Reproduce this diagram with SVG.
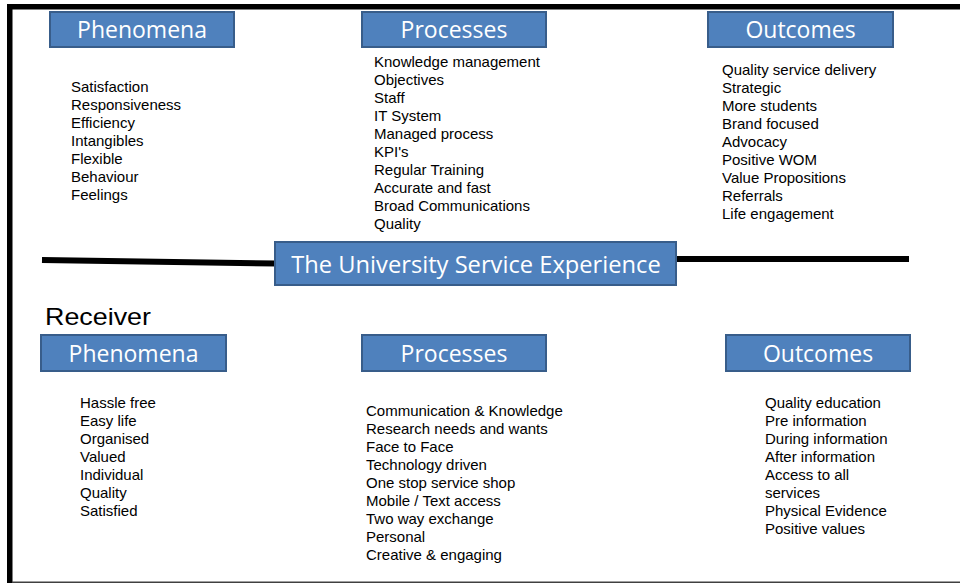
<svg xmlns="http://www.w3.org/2000/svg" width="960" height="583" viewBox="0 0 960 583">
  <style>
    .box { fill: #4F81BD; stroke: #385D8A; stroke-width: 2; }
    .title { font-family: "Open Sans", "Liberation Sans", sans-serif; font-size: 23px; fill: #FFFFFF; text-anchor: middle; }
    .item { font-family: "Liberation Sans", Arial, sans-serif; font-size: 15px; fill: #000000; }
    .frame { fill: #000000; }
    .bar { stroke: #000000; stroke-width: 6; fill: none; }
  </style>
  <rect x="0" y="0" width="960" height="583" fill="#FFFFFF"/>
  <!-- frame -->
  <rect class="frame" x="7" y="4" width="953" height="5.5"/>
  <rect class="frame" x="7" y="4" width="5.5" height="579"/>
  <rect x="12" y="581.5" width="948" height="1.5" fill="#404040"/>

  <!-- connectors -->
  <g id="connectors">
    <line class="bar" x1="42" y1="260" x2="276" y2="263.5"/>
    <line class="bar" x1="676" y1="259" x2="909" y2="259"/>
  </g>

  <!-- Top row -->
  <g id="top-phenomena">
    <rect class="box" x="50" y="12" width="184" height="35"/>
    <text class="title" x="142" y="38">Phenomena</text>
    <text class="item" x="71" y="92">Satisfaction</text>
    <text class="item" x="71" y="110">Responsiveness</text>
    <text class="item" x="71" y="128">Efficiency</text>
    <text class="item" x="71" y="146">Intangibles</text>
    <text class="item" x="71" y="164">Flexible</text>
    <text class="item" x="71" y="182">Behaviour</text>
    <text class="item" x="71" y="200">Feelings</text>
  </g>
  <g id="top-processes">
    <rect class="box" x="362" y="12" width="184" height="35"/>
    <text class="title" x="454" y="38">Processes</text>
    <text class="item" x="374" y="67">Knowledge management</text>
    <text class="item" x="374" y="85">Objectives</text>
    <text class="item" x="374" y="103">Staff</text>
    <text class="item" x="374" y="121">IT System</text>
    <text class="item" x="374" y="139">Managed process</text>
    <text class="item" x="374" y="157">KPI's</text>
    <text class="item" x="374" y="175">Regular Training</text>
    <text class="item" x="374" y="193">Accurate and fast</text>
    <text class="item" x="374" y="211">Broad Communications</text>
    <text class="item" x="374" y="229">Quality</text>
  </g>
  <g id="top-outcomes">
    <rect class="box" x="708" y="12" width="185" height="35"/>
    <text class="title" x="800.5" y="38">Outcomes</text>
    <text class="item" x="722" y="75">Quality service delivery</text>
    <text class="item" x="722" y="93">Strategic</text>
    <text class="item" x="722" y="111">More students</text>
    <text class="item" x="722" y="129">Brand focused</text>
    <text class="item" x="722" y="147">Advocacy</text>
    <text class="item" x="722" y="165">Positive WOM</text>
    <text class="item" x="722" y="183">Value Propositions</text>
    <text class="item" x="722" y="201">Referrals</text>
    <text class="item" x="722" y="219">Life engagement</text>
  </g>

  <!-- center -->
  <g id="university-service-experience">
    <rect class="box" x="275" y="242" width="401" height="43"/>
    <text class="title" x="476" y="273" style="font-size:23.7px">The University Service Experience</text>
  </g>

  <g id="receiver">
    <text x="45" y="325" font-family="Liberation Sans, Arial, sans-serif" font-size="24" fill="#000000" textLength="106" lengthAdjust="spacingAndGlyphs">Receiver</text>
  </g>

  <!-- Bottom row -->
  <g id="bottom-phenomena">
    <rect class="box" x="41" y="335" width="185" height="36"/>
    <text class="title" x="133.5" y="362">Phenomena</text>
    <text class="item" x="80" y="408">Hassle free</text>
    <text class="item" x="80" y="426">Easy life</text>
    <text class="item" x="80" y="444">Organised</text>
    <text class="item" x="80" y="462">Valued</text>
    <text class="item" x="80" y="480">Individual</text>
    <text class="item" x="80" y="498">Quality</text>
    <text class="item" x="80" y="516">Satisfied</text>
  </g>
  <g id="bottom-processes">
    <rect class="box" x="362" y="335" width="184" height="36"/>
    <text class="title" x="454" y="362">Processes</text>
    <text class="item" x="366" y="416">Communication &amp; Knowledge</text>
    <text class="item" x="366" y="434">Research needs and wants</text>
    <text class="item" x="366" y="452">Face to Face</text>
    <text class="item" x="366" y="470">Technology driven</text>
    <text class="item" x="366" y="488">One stop service shop</text>
    <text class="item" x="366" y="506">Mobile / Text access</text>
    <text class="item" x="366" y="524">Two way exchange</text>
    <text class="item" x="366" y="542">Personal</text>
    <text class="item" x="366" y="560">Creative &amp; engaging</text>
  </g>
  <g id="bottom-outcomes">
    <rect class="box" x="726" y="335" width="184" height="36"/>
    <text class="title" x="818" y="362">Outcomes</text>
    <text class="item" x="765" y="408">Quality education</text>
    <text class="item" x="765" y="426">Pre information</text>
    <text class="item" x="765" y="444">During information</text>
    <text class="item" x="765" y="462">After information</text>
    <text class="item" x="765" y="480">Access to all</text>
    <text class="item" x="765" y="498">services</text>
    <text class="item" x="765" y="516">Physical Evidence</text>
    <text class="item" x="765" y="534">Positive values</text>
  </g>
</svg>
